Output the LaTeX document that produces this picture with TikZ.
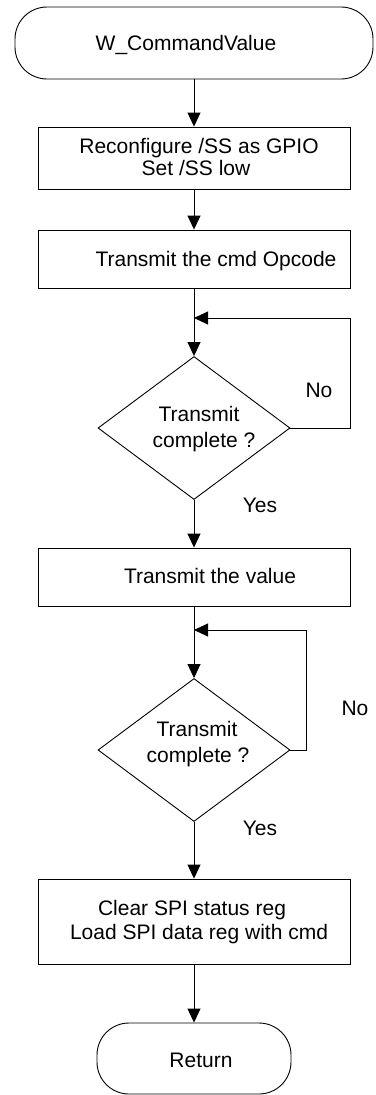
\documentclass[tikz,border=0pt]{standalone}
\usepackage{fontspec}
\setmainfont{Liberation Sans}
\usetikzlibrary{arrows.meta,shapes.geometric}
\begin{document}
\begin{tikzpicture}[x=1pt,y=-1pt,
  line width=0.9pt,
  arr/.style={-{Triangle[length=14pt,width=13pt]}},
  boxnode/.style={draw, inner sep=0pt, minimum width=312pt},
  termnode/.style={draw, inner sep=0pt, rounded corners=32pt},
  decnode/.style={draw, diamond, inner sep=0pt, minimum width=192pt, minimum height=143pt},
  txt/.style={anchor=base, inner sep=0pt, font=\fontsize{21}{25}\selectfont}
]
\useasboundingbox (0,0) rectangle (375,1095);

% shapes
\node[termnode, minimum width=358pt, minimum height=72pt] (start) at (194,43) {};
\node[boxnode, minimum height=62pt] (box1) at (194.5,158) {};
\node[boxnode, minimum height=58pt] (box2) at (194.5,259) {};
\node[decnode] (d1) at (194,428) {};
\node[boxnode, minimum height=58pt] (box3) at (194.5,577) {};
\node[decnode] (d2) at (194,750) {};
\node[boxnode, minimum height=85pt] (box4) at (194.5,921.5) {};
\node[termnode, minimum width=194pt, minimum height=71pt] (ret) at (194,1058.5) {};

% texts
\node[txt] (t0) at (186,50) {W\_CommandValue};
\node[txt] (t1a) at (199,153) {Reconfigure /SS as GPIO};
\node[txt] (t1b) at (196,175) {Set /SS low};
\node[txt] (t2) at (216,266) {Transmit the cmd Opcode};
\node[txt] (t3a) at (199,421) {Transmit};
\node[txt] (t3b) at (204,447) {complete ?};
\node[txt] (no1) at (319,397) {No};
\node[txt] (yes1) at (260,512) {Yes};
\node[txt] (t4) at (210,583) {Transmit the value};
\node[txt] (t5a) at (197,736) {Transmit};
\node[txt] (t5b) at (198,762) {complete ?};
\node[txt] (no2) at (355,715) {No};
\node[txt] (yes2) at (260,835) {Yes};
\node[txt] (t6a) at (192,915) {Clear SPI status reg};
\node[txt] (t6b) at (199,939) {Load SPI data reg with cmd};
\node[txt] (t7) at (201,1067) {Return};

% connectors
\coordinate (j1) at (194,318);
\coordinate (j2) at (194,630);
\draw[arr] (start.south) -- (start.south |- box1.north);
\draw[arr] (start.south |- box1.south) -- (start.south |- box2.north);
\draw[arr] (start.south |- box2.south) -- (d1.north);
\draw[arr] (d1.east) -- ++(60,0) |- (j1);
\draw[arr] (d1.south) -- (d1.south |- box3.north);
\draw[arr] (d1.south |- box3.south) -- (d2.north);
\draw[arr] (d2.east) -- ++(16,0) |- (j2);
\draw[arr] (d2.south) -- (d2.south |- box4.north);
\draw[arr] (d2.south |- box4.south) -- (ret.north);
\end{tikzpicture}
\end{document}
